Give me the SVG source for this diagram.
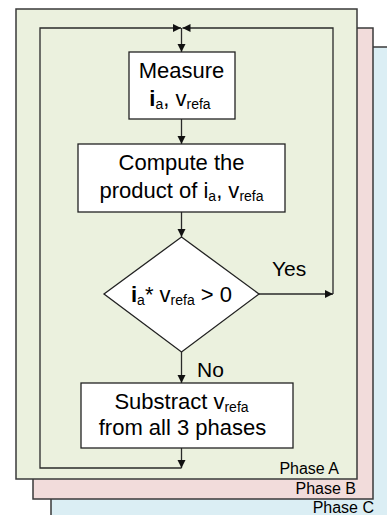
<svg xmlns="http://www.w3.org/2000/svg" width="387" height="515" viewBox="0 0 387 515">
<style>
text{font-family:"Liberation Sans",Arial,sans-serif;fill:#000}
.panel{stroke:#3a3a3a;stroke-width:1.5}
.box{fill:#fff;stroke:#222;stroke-width:1.3}
.t{font-size:22px;text-anchor:middle}
.lbl{font-size:21px}
.ph{font-size:16px;text-anchor:end}
.c{fill:none;stroke:#2a2a2a;stroke-width:1.3}
.sub{font-size:14px}
</style>
<defs>
<marker id="ah" markerUnits="userSpaceOnUse" markerWidth="10" markerHeight="10" refX="8" refY="4" orient="auto">
<path d="M0,0 L8,4 L0,8 Z" fill="#111"/>
</marker>
</defs>
<g id="panels">
<rect id="phaseC" class="panel" x="51" y="47" width="345" height="480" fill="#dbeef4"/>
<rect id="phaseB" class="panel" x="33" y="28" width="340" height="471" fill="#f2dcdb"/>
<rect id="phaseA" class="panel" x="16" y="9" width="341" height="470" fill="#ebf1de"/>
<text class="ph" x="339" y="474">Phase A</text>
<text class="ph" x="356" y="494">Phase B</text>
<text class="ph" x="374" y="513">Phase C</text>
</g>
<g id="connectors">
<line class="c" x1="181.5" y1="28" x2="181.5" y2="52" marker-end="url(#ah)"/>
<line class="c" x1="181.5" y1="119" x2="181.5" y2="144" marker-end="url(#ah)"/>
<line class="c" x1="181.5" y1="212" x2="181.5" y2="237" marker-end="url(#ah)"/>
<line class="c" x1="181.5" y1="352" x2="181.5" y2="383" marker-end="url(#ah)"/>
<line class="c" x1="181.5" y1="448" x2="181.5" y2="468" marker-end="url(#ah)"/>
<polyline class="c" points="181.5,468 40,468 40,28 181,28" marker-end="url(#ah)"/>
<line class="c" x1="259" y1="294" x2="333" y2="294" marker-end="url(#ah)"/>
<polyline class="c" points="333,294 333,28 182.5,28" marker-end="url(#ah)"/>
<text class="lbl" x="272" y="276">Yes</text>
<text class="lbl" x="197" y="377">No</text>
</g>
<g id="measure">
<rect class="box" x="129" y="52" width="106" height="67"/>
<text class="t" x="181.5" y="78">Measure</text>
<text class="t" x="180" y="106"><tspan font-weight="bold">i</tspan><tspan class="sub" dy="3">a</tspan><tspan dy="-3">, v</tspan><tspan class="sub" dy="3">refa</tspan></text>
</g>
<g id="compute">
<rect class="box" x="78" y="144" width="207" height="68"/>
<text class="t" x="181.5" y="170">Compute the</text>
<text class="t" x="181.5" y="198">product of i<tspan class="sub" dy="3">a</tspan><tspan dy="-3">, v</tspan><tspan class="sub" dy="3">refa</tspan></text>
</g>
<g id="decision">
<polygon class="box" points="181.5,237 259,294 181.5,352 104,294"/>
<text class="t" x="181.5" y="302"><tspan font-weight="bold">i</tspan><tspan class="sub" dy="3">a</tspan><tspan dy="-3">* v</tspan><tspan class="sub" dy="3">refa</tspan><tspan dy="-3"> &gt; 0</tspan></text>
</g>
<g id="subtract">
<rect class="box" x="81" y="383" width="212" height="65"/>
<text class="t" x="181.5" y="409">Substract v<tspan class="sub" dy="3">refa</tspan></text>
<text class="t" x="182.5" y="435">from all 3 phases</text>
</g>
</svg>
